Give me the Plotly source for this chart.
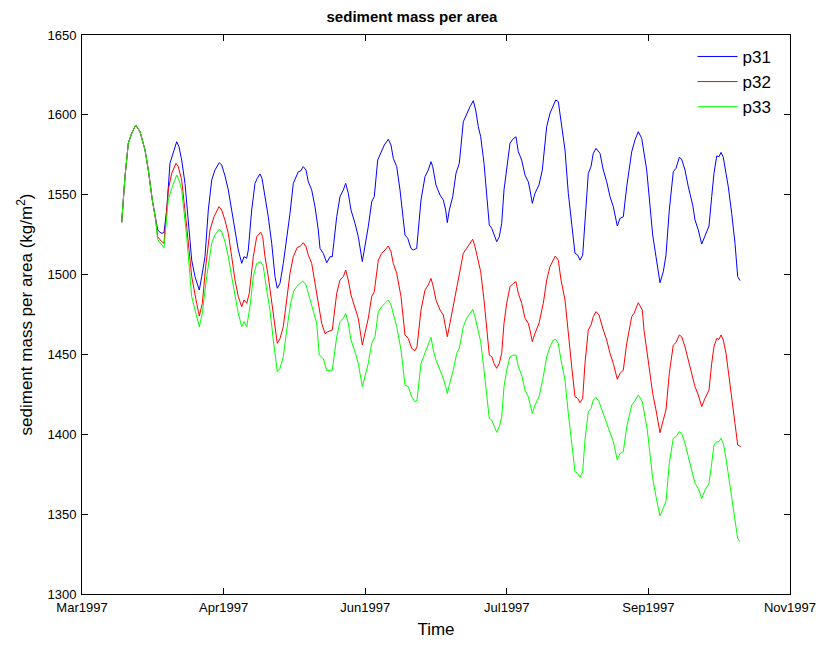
import pandas as pd
import plotly.graph_objects as go

# Time is stored as days elapsed since 1 March 1997.
T0 = pd.Timestamp("1997-03-01")

# shared start of the three stations (identical until the first dip)
t_start = [14.02, 15.18, 16.35, 17.55, 18.96, 20.48, 22.25, 23.41, 24.82, 26.02]
v_start = [1532.7, 1561.3, 1582.2, 1588.4, 1593.6, 1589.5, 1578.0, 1565.5, 1546.7, 1534.2]

# station p31
t31 = t_start + [
    26.73, 27.30, 28.14, 28.95, 29.91, 31.07, 32.24, 33.44, 34.25, 35.20, 36.37, 37.54,
    38.74, 39.90, 41.42, 42.27, 43.43, 44.60, 45.80, 46.96, 48.48, 49.33, 50.49, 51.66,
    52.86, 54.03, 55.19, 56.39, 57.20, 58.16, 58.72, 59.92, 61.09, 61.90, 62.85, 63.56,
    64.62, 65.78, 66.98, 68.15, 68.96, 69.92, 71.08, 72.28, 73.45, 74.61, 76.38, 77.22,
    78.14, 79.10, 79.91, 81.11, 82.27, 83.44, 84.04, 85.21, 86.41, 87.57, 88.38, 89.94,
    91.10, 92.27, 93.11, 94.03, 94.99, 96.40, 97.56, 98.98, 99.93, 101.09, 102.29, 103.21,
    104.41, 105.58, 106.74, 108.16, 109.11, 109.92, 111.12, 112.29, 114.05, 115.01, 116.17,
    116.98, 118.18, 119.70, 121.12, 122.28, 123.23, 123.83, 125.00, 126.41, 127.58, 128.42,
    128.99, 129.70, 130.90, 132.06, 133.23, 134.64, 135.84, 137.01, 138.17, 139.02, 139.94,
    140.78, 141.95, 142.90, 143.82, 144.67, 145.83, 146.43, 147.35, 148.20, 149.01, 149.96,
    151.13, 152.08, 153.25, 154.06, 155.26, 156.43, 157.59, 158.19, 159.00, 159.96, 161.37,
    162.54, 164.09, 165.25, 166.42, 167.27, 168.19, 169.14, 170.55, 171.72, 172.92, 174.08,
    175.04, 175.85, 176.80, 177.61, 178.78, 179.73, 180.54, 181.50, 182.91, 184.07, 185.28,
    186.44, 187.61, 189.02, 189.97, 191.14, 192.34, 194.10, 195.27, 196.43, 197.63, 199.40,
    200.56, 201.52, 202.68, 204.10, 205.26, 206.21, 207.38, 208.79, 209.75, 210.91, 211.76,
    212.92, 214.09, 215.64, 216.46, 217.62, 218.82, 219.99, 221.40, 222.35, 223.16, 224.12,
    224.93, 225.64, 226.45, 227.40, 228.21, 229.41, 230.58, 231.53, 232.34]
p31 = v_start + [
    1527.9, 1526.8, 1525.8, 1526.3, 1540.4, 1569.7, 1575.9, 1583.2, 1580.0, 1571.7, 1557.1, 1534.0,
    1509.0, 1498.7, 1490.3, 1498.7, 1511.2, 1540.4, 1559.2, 1565.5, 1570.1, 1568.6, 1561.8, 1553.0,
    1540.4, 1525.8, 1515.4, 1507.0, 1511.2, 1510.2, 1515.4, 1540.4, 1557.1, 1560.3, 1563.0, 1560.3,
    1548.8, 1536.2, 1519.6, 1498.7, 1491.4, 1494.5, 1507.0, 1521.6, 1538.3, 1557.1, 1564.4, 1564.9,
    1567.6, 1565.5, 1558.1, 1553.0, 1542.5, 1527.9, 1516.4, 1513.3, 1507.4, 1511.2, 1511.2, 1536.2,
    1548.8, 1553.0, 1557.1, 1550.9, 1540.4, 1532.1, 1523.7, 1508.1, 1517.5, 1530.0, 1545.6, 1548.8,
    1571.7, 1576.9, 1581.1, 1584.7, 1581.1, 1572.8, 1567.6, 1553.0, 1524.8, 1522.7, 1516.4,
    1515.4, 1516.4, 1546.7, 1561.3, 1565.5, 1570.7, 1567.6, 1556.1, 1549.8, 1546.7, 1540.4,
    1532.5, 1540.4, 1548.8, 1563.4, 1569.7, 1595.7, 1601.0, 1605.1, 1608.9, 1603.0, 1592.6,
    1586.3, 1569.7, 1550.9, 1531.0, 1529.0, 1523.7, 1520.6, 1523.7, 1532.1, 1553.0, 1567.6,
    1582.2, 1584.7, 1586.3, 1576.9, 1571.7, 1562.3, 1558.1, 1553.0, 1544.6, 1550.9, 1556.1,
    1565.5, 1592.6, 1601.0, 1606.2, 1609.3, 1608.3, 1594.7, 1578.0, 1550.9, 1532.1, 1513.3,
    1512.2, 1509.0, 1512.2, 1532.1, 1563.4, 1567.6, 1575.9, 1579.0, 1575.9, 1565.5, 1558.1,
    1548.8, 1542.5, 1530.4, 1535.2, 1536.2, 1555.0, 1576.9, 1584.3, 1589.5, 1585.3, 1565.5,
    1542.5, 1524.8, 1511.2, 1494.9, 1501.8, 1512.2, 1540.4, 1564.4, 1566.5, 1573.4, 1572.2,
    1565.5, 1555.0, 1543.6, 1534.2, 1527.9, 1519.1, 1524.8, 1530.4, 1548.8, 1563.4, 1574.2,
    1573.8, 1576.5, 1573.4, 1563.4, 1555.0, 1538.3, 1519.6, 1498.7, 1496.2]

# station p32
t32 = t_start + [
    26.73, 28.14, 28.95, 30.47, 31.67, 33.19, 34.00, 35.20, 36.97, 38.74, 40.50, 41.42,
    42.48, 43.68, 45.20, 46.61, 48.38, 49.33, 50.49, 51.66, 52.86, 54.03, 55.19, 56.39,
    57.20, 58.16, 59.07, 60.49, 61.69, 62.25, 63.10, 63.81, 64.62, 65.78, 66.98, 68.15,
    68.96, 69.92, 71.08, 72.28, 73.45, 74.61, 76.02, 76.98, 78.14, 79.10, 79.91, 81.11,
    82.27, 83.44, 84.64, 85.81, 86.76, 88.38, 89.94, 91.10, 92.27, 93.11, 94.03, 94.99,
    96.40, 97.56, 98.98, 99.93, 101.09, 102.29, 103.21, 104.63, 105.83, 106.99, 108.16,
    109.11, 109.92, 111.12, 112.64, 114.05, 115.22, 116.42, 117.58, 118.29, 119.70, 121.12,
    122.28, 123.23, 124.05, 125.00, 126.41, 127.58, 128.42, 128.99, 129.70, 131.11, 132.31,
    133.23, 134.64, 135.84, 137.01, 137.96, 138.77, 139.94, 140.78, 141.95, 142.90, 143.82,
    144.67, 145.48, 146.43, 147.35, 148.20, 149.01, 149.96, 151.13, 152.30, 153.25, 154.06,
    155.26, 156.43, 157.59, 158.19, 159.00, 159.96, 161.37, 162.89, 164.09, 165.25, 167.12,
    168.19, 169.14, 170.55, 171.72, 172.92, 174.08, 175.04, 175.85, 176.80, 177.61, 178.78,
    179.73, 180.54, 181.50, 182.56, 184.07, 185.28, 186.44, 187.61, 189.02, 189.97, 191.14,
    192.34, 194.10, 194.92, 196.43, 197.85, 198.45, 199.61, 201.52, 202.68, 204.10, 205.26,
    206.21, 207.38, 208.79, 209.75, 210.91, 211.76, 212.92, 214.09, 215.64, 216.46, 217.62,
    218.82, 219.99, 221.40, 222.35, 223.16, 224.12, 224.93, 225.64, 226.45, 227.40, 228.21,
    229.41, 230.58, 231.53, 232.59]
p32 = v_start + [
    1523.7, 1520.6, 1519.6, 1553.0, 1563.4, 1569.7, 1567.6, 1559.2, 1530.0, 1498.7, 1482.0, 1474.0,
    1482.0, 1505.0, 1527.9, 1536.2, 1542.5, 1540.4, 1534.0, 1525.8, 1511.2, 1496.6, 1486.2, 1479.9,
    1484.1, 1482.0, 1488.3, 1511.2, 1523.7, 1524.8, 1526.5, 1523.7, 1511.2, 1498.7, 1482.0, 1465.3,
    1456.9, 1460.0, 1467.4, 1484.1, 1500.8, 1511.2, 1517.0, 1517.5, 1520.0, 1517.5, 1512.2, 1507.0,
    1494.5, 1482.0, 1469.5, 1463.0, 1464.2, 1465.3, 1488.3, 1496.6, 1498.7, 1502.8, 1496.6, 1487.2,
    1479.9, 1472.6, 1455.9, 1464.2, 1472.6, 1486.2, 1489.3, 1509.0, 1513.3, 1515.4, 1517.9,
    1514.3, 1507.0, 1500.8, 1486.2, 1462.2, 1460.0, 1453.8, 1452.3, 1454.8, 1477.8, 1490.3,
    1493.5, 1497.6, 1492.4, 1484.1, 1477.8, 1474.7, 1467.4, 1461.1, 1467.4, 1479.9, 1490.3,
    1498.7, 1513.3, 1516.4, 1519.6, 1522.1, 1517.5, 1507.0, 1501.8, 1484.1, 1467.4, 1449.6,
    1448.6, 1444.4, 1441.3, 1444.4, 1450.7, 1469.5, 1482.0, 1492.4, 1494.5, 1495.5, 1488.3,
    1482.0, 1472.6, 1469.5, 1465.3, 1458.0, 1463.2, 1469.5, 1482.0, 1496.6, 1505.0, 1511.6,
    1509.0, 1496.6, 1484.1, 1461.1, 1442.3, 1423.5, 1422.5, 1419.8, 1422.5, 1444.4, 1465.3,
    1468.4, 1473.6, 1476.8, 1474.7, 1465.3, 1459.0, 1450.7, 1444.4, 1434.4, 1438.1, 1440.2,
    1456.9, 1473.6, 1475.7, 1482.4, 1477.8, 1465.3, 1450.7, 1425.6, 1415.2, 1401.0, 1409.0,
    1415.2, 1438.2, 1455.9, 1457.4, 1462.2, 1461.1, 1454.8, 1446.5, 1436.1, 1429.8, 1424.6,
    1417.3, 1422.5, 1427.7, 1444.4, 1454.8, 1460.0, 1459.4, 1462.2, 1459.0, 1450.7, 1440.2,
    1423.5, 1406.8, 1393.3, 1392.3]

# station p33
t33 = t_start + [
    26.73, 28.14, 28.95, 30.47, 31.67, 33.44, 34.25, 35.20, 36.97, 38.74, 40.50, 41.42,
    42.48, 44.03, 45.80, 46.96, 48.48, 49.33, 50.49, 51.66, 52.86, 54.03, 55.19, 56.39,
    57.20, 58.16, 59.32, 60.49, 61.69, 63.10, 64.02, 65.22, 66.38, 67.55, 68.96, 69.92,
    71.08, 72.28, 73.69, 74.86, 76.38, 77.93, 79.10, 79.91, 81.67, 82.87, 83.79, 85.21,
    86.41, 88.38, 89.94, 91.10, 92.27, 93.11, 94.03, 94.99, 96.40, 97.56, 98.98, 99.93,
    101.09, 102.29, 103.46, 104.63, 105.83, 106.99, 108.16, 109.11, 109.92, 111.12, 112.64,
    114.05, 115.22, 116.42, 117.58, 118.29, 119.70, 121.12, 122.28, 123.23, 124.05, 125.00,
    126.41, 127.58, 128.42, 128.99, 129.70, 131.11, 132.31, 133.23, 134.64, 135.84, 137.01,
    137.96, 138.77, 139.94, 140.78, 141.95, 142.90, 143.82, 144.67, 145.48, 146.43, 147.35,
    148.20, 149.01, 149.96, 151.13, 152.30, 153.25, 154.06, 155.26, 156.43, 157.59, 158.19,
    159.00, 159.96, 161.37, 162.89, 164.09, 165.25, 166.42, 167.27, 168.19, 169.14, 170.55,
    171.72, 172.92, 174.08, 175.04, 175.85, 176.80, 177.61, 178.78, 179.73, 180.54, 181.50,
    182.56, 184.07, 185.28, 186.44, 187.61, 189.02, 189.97, 191.14, 192.34, 194.10, 195.02,
    196.43, 197.85, 199.61, 201.52, 202.68, 204.10, 205.26, 206.21, 207.38, 208.79, 209.75,
    210.91, 211.76, 212.92, 214.09, 215.64, 216.46, 217.62, 218.82, 219.99, 221.40, 222.35,
    223.16, 224.12, 224.93, 225.64, 226.45, 227.40, 228.21, 229.41, 230.58, 231.53, 232.34]
p33 = v_start + [
    1522.0, 1518.5, 1516.8, 1546.7, 1554.0, 1562.3, 1559.2, 1553.0, 1523.7, 1486.2, 1473.6, 1467.3,
    1475.7, 1498.7, 1519.6, 1524.8, 1528.5, 1526.8, 1520.6, 1511.2, 1498.7, 1486.2, 1475.7, 1467.4,
    1470.5, 1467.4, 1479.9, 1498.7, 1507.0, 1508.1, 1505.0, 1490.3, 1477.8, 1459.0, 1439.2, 1441.3,
    1448.6, 1465.3, 1482.0, 1490.3, 1493.5, 1496.0, 1493.5, 1488.3, 1477.8, 1469.5, 1449.6, 1447.5,
    1439.8, 1440.2, 1461.1, 1470.5, 1472.6, 1475.7, 1469.5, 1459.0, 1451.7, 1444.4, 1429.8, 1436.1,
    1444.4, 1456.9, 1461.1, 1476.8, 1479.9, 1482.0, 1484.1, 1481.0, 1474.7, 1467.4, 1452.8,
    1430.8, 1429.8, 1423.5, 1420.4, 1421.4, 1444.4, 1450.7, 1455.9, 1460.7, 1452.8, 1446.5,
    1440.2, 1435.0, 1429.8, 1425.6, 1430.8, 1440.2, 1450.7, 1453.8, 1467.4, 1472.6, 1475.7,
    1478.2, 1473.6, 1463.2, 1458.0, 1440.2, 1425.6, 1409.9, 1408.9, 1404.7, 1401.2, 1404.7,
    1411.0, 1429.8, 1440.2, 1448.6, 1449.6, 1449.6, 1442.3, 1437.1, 1427.7, 1423.5, 1419.3,
    1413.1, 1418.3, 1423.5, 1436.1, 1448.6, 1454.8, 1459.0, 1459.4, 1456.9, 1446.5, 1434.0,
    1413.1, 1394.3, 1376.6, 1375.5, 1373.0, 1376.6, 1396.5, 1414.1, 1416.2, 1421.4, 1423.1,
    1420.4, 1413.1, 1406.8, 1400.5, 1395.3, 1383.9, 1388.0, 1389.1, 1404.7, 1418.3, 1420.4,
    1424.6, 1420.4, 1402.7, 1372.4, 1361.0, 1348.8, 1353.9, 1358.0, 1381.8, 1397.5, 1398.5,
    1401.6, 1400.5, 1394.3, 1386.0, 1375.5, 1369.3, 1366.1, 1359.8, 1365.0, 1369.3, 1381.8,
    1393.3, 1395.3, 1395.3, 1397.5, 1394.3, 1384.9, 1375.5, 1358.8, 1346.3, 1334.8, 1332.7]

# axis ticks every 50 days
tick_days = [0, 50, 100, 150, 200, 250]
tick_text = ["Mar1997", "Apr1997", "Jun1997", "Jul1997", "Sep1997", "Nov1997"]
y_ticks = [1300, 1350, 1400, 1450, 1500, 1550, 1600, 1650]


def to_dates(days):
    return [T0 + pd.Timedelta(days=d) for d in days]


FONT = "Liberation Sans, Arial, Helvetica, sans-serif"

fig = go.Figure()
for name, t, v, col in [("p31", t31, p31, "#0000ff"),
                        ("p32", t32, p32, "#ff0000"),
                        ("p33", t33, p33, "#00ff00")]:
    fig.add_trace(go.Scatter(x=to_dates(t), y=v, mode="lines", name=name,
                             line=dict(color=col, width=1)))

axis_common = dict(showline=True, linecolor="black", linewidth=1, mirror="ticks",
                   ticks="inside", ticklen=6, tickcolor="black", showgrid=False,
                   zeroline=False, tickfont=dict(family=FONT, size=13, color="black"))

fig.update_layout(
    width=824, height=645,
    paper_bgcolor="white", plot_bgcolor="white",
    margin=dict(l=82, r=34, t=35, b=51),
    title=dict(text="<b>sediment mass per area</b>", x=0.5, xanchor="center",
               y=0.974, yanchor="middle",
               font=dict(family=FONT, size=15, color="black")),
    xaxis=dict(type="date",
               range=[T0, T0 + pd.Timedelta(days=250)],
               tickvals=to_dates(tick_days), ticktext=tick_text,
               ticklabelstandoff=1,
               title=dict(text="Time", standoff=9,
                          font=dict(family=FONT, size=17, color="black")),
               automargin=False, **axis_common),
    yaxis=dict(range=[1300, 1650], tickvals=y_ticks,
               ticklabelstandoff=2,
               title=dict(text="sediment mass per area (kg/m<sup>2</sup>)", standoff=10,
                          font=dict(family=FONT, size=17, color="black")),
               automargin=False, **axis_common),
    legend=dict(x=0.981, y=0.993, xanchor="right", yanchor="top",
                bgcolor="rgba(255,255,255,0)", borderwidth=0,
                font=dict(family=FONT, size=17, color="black"),
                tracegroupgap=0, itemwidth=40),
    showlegend=True,
)

fig.write_html("out.html")
